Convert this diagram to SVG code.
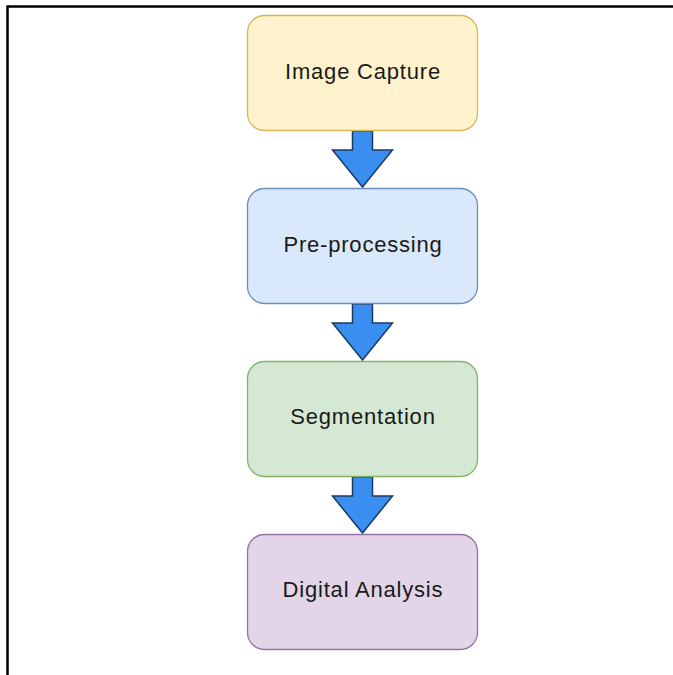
<svg xmlns="http://www.w3.org/2000/svg" width="673" height="675" viewBox="0 0 673 675">
<style>
.box{stroke-width:1.3}
.lbl{font-family:"Liberation Sans",Arial,sans-serif;font-size:22px;letter-spacing:0.8px;fill:#1a1a1a;text-anchor:middle}
.arr{fill:#3a8ef0;stroke:#1c3a63;stroke-width:1.5;stroke-linejoin:miter}
</style>
<rect width="673" height="675" fill="#ffffff"/>
<g id="frame">
<path d="M7.5 675 V6.5 H673" fill="none" stroke="#000" stroke-width="2.5"/>
</g>
<g id="connectors">
<path class="arr" d="M352.5 131 H372.5 V150 H392.5 L362.5 187 L332.5 150 H352.5 Z"/>
<path class="arr" d="M352.5 304 H372.5 V323 H392.5 L362.5 360 L332.5 323 H352.5 Z"/>
<path class="arr" d="M352.5 477 H372.5 V496 H392.5 L362.5 533 L332.5 496 H352.5 Z"/>
</g>
<g id="image-capture">
<rect class="box" x="247.5" y="15.5" width="230" height="115" rx="17" fill="#fff2cc" stroke="#d6b656"/>
<text class="lbl" x="363" y="79">Image Capture</text>
</g>
<g id="pre-processing">
<rect class="box" x="247.5" y="188.5" width="230" height="115" rx="17" fill="#dae8fc" stroke="#6c8ebf"/>
<text class="lbl" x="363" y="252">Pre-processing</text>
</g>
<g id="segmentation">
<rect class="box" x="247.5" y="361.5" width="230" height="115" rx="17" fill="#d5e8d4" stroke="#82b366"/>
<text class="lbl" x="363" y="424">Segmentation</text>
</g>
<g id="digital-analysis">
<rect class="box" x="247.5" y="534.5" width="230" height="115" rx="17" fill="#e1d5e7" stroke="#9673a6"/>
<text class="lbl" x="363" y="597">Digital Analysis</text>
</g>
</svg>
